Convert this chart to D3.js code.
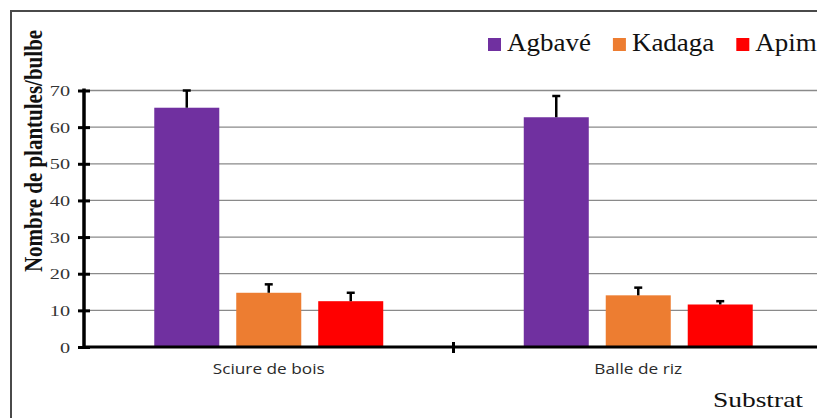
<!DOCTYPE html>
<html>
<head>
<meta charset="utf-8">
<script src="https://cdn.jsdelivr.net/npm/d3@7"></script>
<style>
  html, body { margin: 0; padding: 0; background: #fff; }
  svg { display: block; }
</style>
</head>
<body>
<svg id="chart" width="817" height="418"></svg>
<script>
const categories = ["Sciure de bois", "Balle de riz"];
const seriesNames = ["Agbavé", "Kadaga", "Apim"];
const seriesColors = ["#7030A0", "#ED7D31", "#FF0000"];
const agbaveValues = [65.3, 62.7];
const agbaveErrors = [4.7, 5.8];
const kadagaValues = [14.8, 14.1];
const kadagaErrors = [2.3, 2.1];
const apimValues = [12.5, 11.6];
const apimErrors = [2.3, 0.9];
const yTicks = [0, 10, 20, 30, 40, 50, 60, 70];
const yTitle = "Nombre de plantules/bulbe";
const xTitle = "Substrat";

const seriesValues = [agbaveValues, kadagaValues, apimValues];
const seriesErrors = [agbaveErrors, kadagaErrors, apimErrors];

const svg = d3.select("#chart");

// outer frame
svg.append("rect")
  .attr("x", 11).attr("y", 11).attr("width", 830).attr("height", 440)
  .attr("fill", "#fff").attr("stroke", "#4a4a4a").attr("stroke-width", 2);

const pLeft = 84, pRight = 823, pTop = 90.5, pBottom = 347;
const y = d3.scaleLinear().domain([0, 70]).range([pBottom, pTop]);
const x0 = d3.scaleBand().domain(categories).range([pLeft, pRight]).padding(0);
const x1 = d3.scaleBand().domain(seriesNames).range([0, x0.bandwidth()])
  .paddingInner(0.207).paddingOuter(0.857);

// gridlines
svg.append("g").selectAll("line").data(yTicks.filter(d => d > 0)).join("line")
  .attr("x1", pLeft).attr("x2", 817)
  .attr("y1", d => y(d)).attr("y2", d => y(d))
  .attr("stroke", "#8a8a8a").attr("stroke-width", 1.3);

// bars
const rows = [];
seriesNames.forEach((s, si) => {
  categories.forEach((c, ci) => {
    rows.push({ s, c, v: seriesValues[si][ci], e: seriesErrors[si][ci], color: seriesColors[si] });
  });
});

svg.append("g").selectAll("rect").data(rows).join("rect")
  .attr("x", d => x0(d.c) + x1(d.s))
  .attr("width", x1.bandwidth())
  .attr("y", d => y(d.v))
  .attr("height", d => y(0) - y(d.v))
  .attr("fill", d => d.color);

// error bars
const eg = svg.append("g").attr("stroke", "#000").attr("stroke-width", 2.5);
eg.selectAll("line.v").data(rows).join("line").attr("class", "v")
  .attr("x1", d => x0(d.c) + x1(d.s) + x1.bandwidth() / 2)
  .attr("x2", d => x0(d.c) + x1(d.s) + x1.bandwidth() / 2)
  .attr("y1", d => y(d.v)).attr("y2", d => y(d.v + d.e));
eg.selectAll("line.c").data(rows).join("line").attr("class", "c")
  .attr("x1", d => x0(d.c) + x1(d.s) + x1.bandwidth() / 2 - 4)
  .attr("x2", d => x0(d.c) + x1(d.s) + x1.bandwidth() / 2 + 4)
  .attr("y1", d => y(d.v + d.e)).attr("y2", d => y(d.v + d.e));

// y axis
const yAxis = d3.axisLeft(y).tickValues(yTicks).tickSize(6).tickPadding(8);
const ya = svg.append("g").attr("transform", `translate(${pLeft},0)`).call(yAxis);
ya.select(".domain").remove();
ya.selectAll(".tick line").attr("x2", -6).attr("x1", 6).attr("stroke", "#000").attr("stroke-width", 3);
ya.selectAll(".tick text").remove();
ya.selectAll(".tick").append("text")
  .attr("text-anchor", "end")
  .attr("transform", "translate(-14,5) scale(1.35,1)")
  .attr("font-family", "'Liberation Serif', 'Times New Roman', serif")
  .attr("font-size", 15).attr("fill", "#333")
  .text(d => d);
svg.append("line").attr("x1", pLeft).attr("x2", pLeft).attr("y1", pTop - 2).attr("y2", pBottom + 2)
  .attr("stroke", "#000").attr("stroke-width", 3.5);

// x axis
const xAxis = d3.axisBottom(x0).tickSize(0).tickPadding(0);
const xa = svg.append("g").attr("transform", `translate(0,${pBottom})`).call(xAxis);
xa.select(".domain").remove();
xa.selectAll(".tick text").remove();
xa.selectAll(".tick").append("text")
  .attr("text-anchor", "middle")
  .attr("transform", "translate(0,27) scale(1.15,1)")
  .attr("font-family", "'Open Sans', sans-serif")
  .attr("font-size", 15).attr("fill", "#2a2a2a")
  .text(d => d);
svg.append("line").attr("x1", pLeft).attr("x2", 817).attr("y1", pBottom).attr("y2", pBottom)
  .attr("stroke", "#000").attr("stroke-width", 3);
// category separator tick
svg.append("g").selectAll("line").data(categories.slice(1)).join("line")
  .attr("x1", d => x0(d)).attr("x2", d => x0(d))
  .attr("y1", pBottom - 5).attr("y2", pBottom + 6)
  .attr("stroke", "#000").attr("stroke-width", 3);

// axis titles
svg.append("text")
  .attr("transform", "translate(42,151) scale(1.2,1) rotate(-90)")
  .attr("text-anchor", "middle")
  .attr("font-family", "'Liberation Serif', 'Times New Roman', serif")
  .attr("font-weight", "bold").attr("font-size", 21).attr("fill", "#111")
  .text(yTitle);
svg.append("text")
  .attr("transform", "translate(803,407) scale(1.25,1)")
  .attr("text-anchor", "end")
  .attr("font-family", "'Liberation Serif', 'Times New Roman', serif")
  .attr("font-size", 22).attr("fill", "#111")
  .text(xTitle);

// legend
let lx = 488;
seriesNames.forEach((s, i) => {
  svg.append("rect").attr("x", lx).attr("y", 38).attr("width", 13).attr("height", 13)
    .attr("fill", seriesColors[i]);
  const t = svg.append("text")
    .attr("transform", `translate(${lx + 19},51) scale(1.08,1)`)
    .attr("font-family", "'Liberation Serif', 'Times New Roman', serif")
    .attr("font-size", 25).attr("fill", "#111")
    .text(s);
  lx += 19 + t.node().getComputedTextLength() * 1.08 + 22;
});
</script>
</body>
</html>
